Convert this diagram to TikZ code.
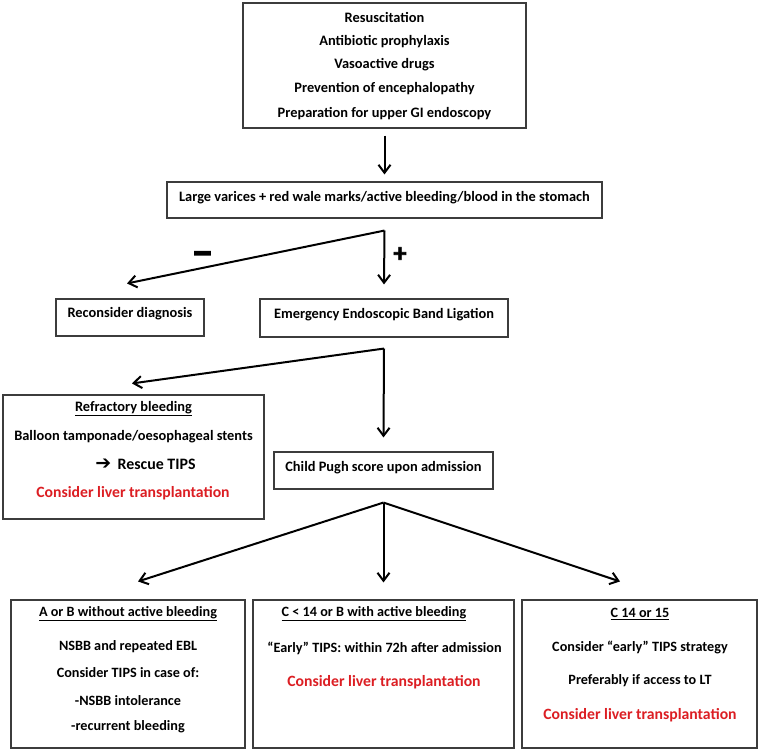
\documentclass[tikz,border=0pt]{standalone}
\usepackage{fontspec}
\usepackage{graphicx}
\setmainfont{Carlito}
\newfontfamily\djv{DejaVu Sans}
\newfontfamily\heavy{Carlito}[BoldFeatures={FakeBold=3}]
\usetikzlibrary{arrows.meta,calc}
\definecolor{lred}{RGB}{220,30,35}
\definecolor{frame}{RGB}{60,60,60}
\begin{document}
\begin{tikzpicture}[x=1pt,y=-1pt,
  box/.style={draw=frame, line width=1.1pt, inner sep=0pt},
  arr/.style={line width=2pt, -{Straight Barb[length=8pt,width=12pt,line width=2pt]}},
  bt/.style={font=\fontsize{14.4}{16}\selectfont\bfseries, inner sep=0pt},
  rt/.style={font=\fontsize{14.2}{16}\selectfont\bfseries, inner sep=0pt},
  rd/.style={inner sep=0pt, font=\fontsize{15.7}{17}\selectfont\bfseries, text=lred},
  sg/.style={font=\fontsize{24}{26}\selectfont\heavy\bfseries, inner sep=0pt}]
\fill[white] (0,0) rectangle (760,752);
\useasboundingbox (0,0) rectangle (760,752);
% boxes
\node[box, minimum width=283pt, minimum height=125pt] (top) at (384.5,65.5) {};
\node[box, minimum width=435pt, minimum height=36pt] (large) at (384.5,200) {};
\node[box, minimum width=148pt, minimum height=37pt] (recon) at (130,317.5) {};
\node[box, minimum width=248pt, minimum height=38pt] (ebl) at (384,318) {};
\node[box, minimum width=261pt, minimum height=124pt] (refr) at (133.5,457) {};
\node[box, minimum width=219pt, minimum height=37pt] (child) at (383.5,470.5) {};
\node[box, minimum width=234pt, minimum height=148pt] (A) at (128,674) {};
\node[box, minimum width=261pt, minimum height=148pt] (C) at (383.5,674) {};
\node[box, minimum width=235pt, minimum height=148pt] (C14) at (639.5,674) {};
% texts
\node[bt] (t1) at (384.5,17) {Resuscitation};
\node[bt] (t2) at (384.5,42) {Antibiotic prophylaxis};
\node[bt] (t3) at (384.5,65) {Vasoactive drugs};
\node[bt] (t4) at (384.5,89) {Prevention of encephalopathy};
\node[bt] (t5) at (384.5,114) {Preparation for upper GI endoscopy};
\node[bt] (tl) at (384.5,198) {Large varices + red wale marks/active bleeding/blood in the stomach};
\node[bt] (tr) at (130,314) {Reconsider diagnosis};
\node[bt] (te) at (384,315) {Emergency Endoscopic Band Ligation};
\node[bt] (rf1) at (133.5,409) {\underline{Refractory bleeding}};
\node[bt] (rf2) at (133.5,437) {Balloon tamponade/oesophageal stents};
\node[bt, font=\fontsize{15.9}{17}\selectfont\bfseries] (rf3) at (145.5,464) {{\djv\bfseries\fontsize{19}{20}\selectfont ➔}\, Rescue TIPS};
\node[rd] (rf4) at (133,493) {Consider liver transplantation};
\node[bt] (tc) at (383.5,468) {Child Pugh score upon admission};
\node[rt] (a1) at (128,614) {\underline{A or B without active bleeding}};
\node[rt] (a2) at (128,647) {NSBB and repeated EBL};
\node[rt] (a3) at (128,673) {Consider TIPS in case of:};
\node[rt] (a4) at (128,701) {-NSBB intolerance};
\node[rt] (a5) at (128,727) {-recurrent bleeding};
\node[rt] (c1) at (374,614) {\underline{C < 14 or B with active bleeding}};
\node[rt] (c2) at (384.5,648) {“Early” TIPS: within 72h after admission};
\node[rd] (c3) at (384,682) {Consider liver transplantation};
\node[rt] (d1) at (640,614) {\underline{C 14 or 15}};
\node[rt] (d2) at (640,647) {Consider “early” TIPS strategy};
\node[rt] (d3) at (640,681) {Preferably if access to LT};
\node[rd] (d4) at (640,715) {Consider liver transplantation};
\node[sg, font=\fontsize{22}{24}\selectfont\heavy\bfseries] (minus) at (202.5,258) {\scalebox{1}[1.8]{—}};
\node[sg, font=\fontsize{26}{28}\selectfont\heavy\bfseries] (plus) at (400,254.5) {+};
% connectors
\draw[arr, shorten <=7pt, shorten >=7pt] (top.south) -- (large.north);
\coordinate (b1) at ($(large.south)+(0,12)$);
\draw[arr] (b1) -- ([xshift=-3pt,yshift=15pt]recon.north);
\draw[arr] (b1) -- ([yshift=14pt]ebl.north);
\coordinate (b2) at ($(ebl.south)+(0,11)$);
\draw[arr] (b2) -- ([xshift=-1.5pt,yshift=11pt]refr.north);
\draw[arr] (b2) -- ([yshift=14pt]child.north);
\coordinate (b3) at ($(child.south)+(0,13)$);
\draw[arr] (b3) -- ([xshift=10pt,yshift=18pt]A.north);
\draw[arr] (b3) -- ([yshift=17pt]C.north);
\draw[arr] (b3) -- ([xshift=-19.5pt,yshift=18pt]C14.north);
\end{tikzpicture}
\end{document}
